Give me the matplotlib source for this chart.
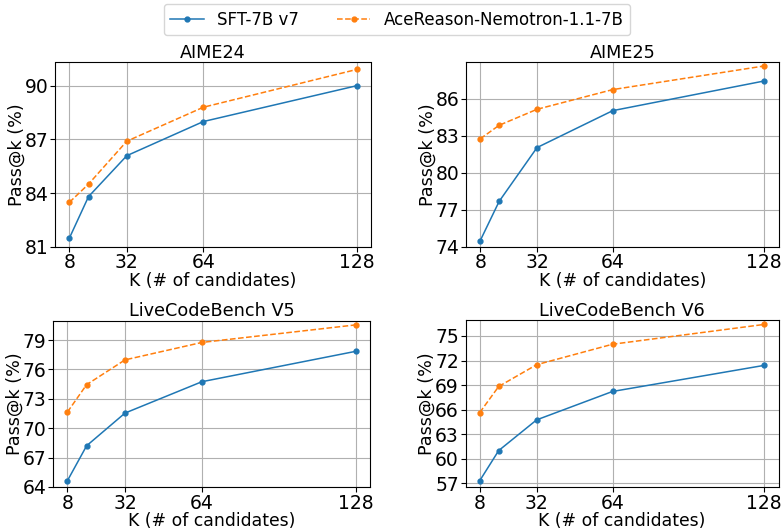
import matplotlib
matplotlib.use("Agg")
import matplotlib.pyplot as plt

ks = [8, 16, 32, 64, 128]
xtick_vals = [8, 32, 64, 128]

titles = ["AIME24", "AIME25", "LiveCodeBench V5", "LiveCodeBench V6"]
sft = [
    [81.48, 83.8, 86.09, 88.0, 90.0],
    [74.49, 77.68, 82.05, 85.05, 87.46],
    [64.64, 68.21, 71.55, 74.75, 77.85],
    [57.32, 61.0, 64.75, 68.22, 71.41],
]
ace = [
    [83.48, 84.5, 86.9, 88.8, 90.91],
    [82.76, 83.86, 85.16, 86.76, 88.68],
    [71.65, 74.45, 76.98, 78.76, 80.55],
    [65.64, 68.83, 71.49, 73.99, 76.41],
]
yticks = [
    [81, 84, 87, 90],
    [74, 77, 80, 83, 86],
    [64, 67, 70, 73, 76, 79],
    [57, 60, 63, 66, 69, 72, 75],
]
ylims = [(81.0, 91.3), (74.0, 89.0), (64.0, 81.0), (56.55, 76.95)]

W, H = 783, 529
fig = plt.figure(figsize=(W / 100, H / 100), dpi=100)
boxes = [
    (55, 62.5, 371, 246.7),
    (466, 62, 778.5, 246.7),
    (53, 320.5, 370, 487),
    (465.5, 320, 778.5, 487),
]
for i, (l, t, r, b) in enumerate(boxes):
    ax = fig.add_axes([l / W, 1 - b / H, (r - l) / W, (b - t) / H])
    l1, = ax.plot(ks, sft[i], color="#1f77b4", marker="o", markersize=3.5,
                  linewidth=1.1, label="SFT-7B v7")
    l2, = ax.plot(ks, ace[i], color="#ff7f0e", marker="o", markersize=3.5,
                  linewidth=1.1, linestyle="--", label="AceReason-Nemotron-1.1-7B")
    ax.set_title(titles[i], fontsize=12.7, pad=3)
    ax.set_xticks(xtick_vals)
    ax.set_yticks(yticks[i])
    ax.set_ylim(*ylims[i])
    ax.set_xlim(2, 134)
    ax.tick_params(labelsize=13.5, pad=1.2)
    ax.grid(True, color="#b0b0b0", linewidth=0.8)
    ax.set_xlabel("K (# of candidates)", fontsize=12.4, labelpad=-0.3)
    ax.set_ylabel("Pass@k (%)", fontsize=12.6, labelpad=-0.5)
    if i == 0:
        handles = [l1, l2]

fig.legend(handles=handles, loc="upper center", bbox_to_anchor=(397 / W, 1 - 4 / H),
           borderaxespad=0, ncol=2, fontsize=12, frameon=True, columnspacing=2.3)
fig.savefig("out.png", dpi=100)
